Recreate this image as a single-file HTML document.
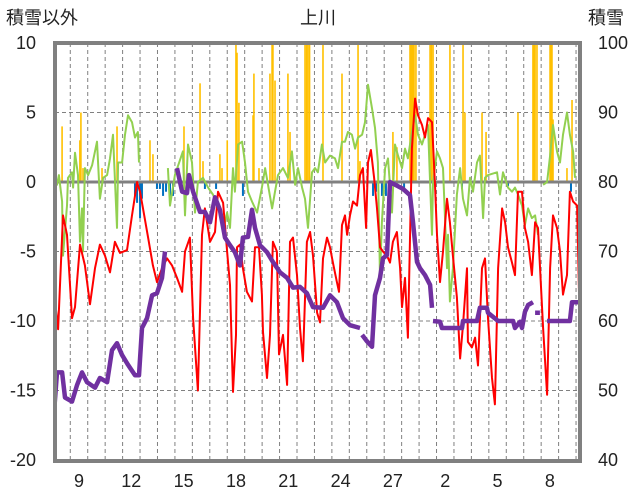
<!DOCTYPE html>
<html><head><meta charset="utf-8">
<style>
html,body{margin:0;padding:0;background:#fff;}
svg{display:block;font-family:"Liberation Sans","Noto Sans CJK JP",sans-serif;}
</style></head>
<body>
<svg id="chart" width="636" height="501" viewBox="0 0 636 501">
<defs><clipPath id="pc"><rect x="55" y="43" width="525" height="418"/></clipPath></defs>
<text x="6" y="24" font-size="18" fill="#222">積雪以外</text>
<text x="318" y="24" font-size="18" fill="#222" text-anchor="middle">上川</text>
<text x="588" y="24" font-size="18" fill="#222">積雪</text>
<g id="grid"></g>
<g id="marks" clip-path="url(#pc)"></g>
<g id="axes"></g>
</svg>
<script>
// x domain: days, 0 = day "9"
const xTickLabels = ["9","12","15","18","21","24","27","2","5","8"];
const xTickDays = [0,3,6,9,12,15,18,21,24,27];
const leftTicks = [10,5,0,-5,-10,-15,-20];
const rightTicks = [100,90,80,70,60,50,40];

const redT = [-1.49,-1.20,-0.92,-0.69,-0.40,-0.23,0.06,0.34,0.63,0.92,1.20,1.49,1.78,2.06,2.35,2.75,3.04,3.33,3.50,3.67,3.96,4.24,4.47,4.76,5.05,5.33,5.62,5.91,6.08,6.36,6.54,6.82,7.05,7.22,7.51,7.80,7.97,8.26,8.49,8.66,8.83,9.00,9.06,9.23,9.40,9.63,9.92,10.09,10.32,10.49,10.55,10.78,10.95,11.12,11.35,11.47,11.70,11.93,12.10,12.27,12.50,12.67,12.84,13.07,13.25,13.42,13.65,13.82,13.99,14.22,14.39,14.56,14.79,14.91,15.08,15.25,15.37,15.54,15.71,15.94,16.11,16.28,16.46,16.57,16.74,16.92,17.09,17.26,17.43,17.66,17.83,18.00,18.23,18.41,18.52,18.69,18.86,19.09,19.27,19.44,19.67,19.84,20.01,20.24,20.41,20.53,20.70,20.87,21.10,21.27,21.44,21.67,21.85,22.02,22.25,22.30,22.53,22.71,22.88,23.11,23.28,23.45,23.68,23.85,24.03,24.26,24.43,24.60,24.83,25.00,25.17,25.40,25.57,25.75,25.97,26.15,26.32,26.61,26.84,27.01,27.18,27.41,27.58,27.75,27.98,28.15,28.33,28.56,28.67];
const redV = [-7.2,-10.6,-2.4,-3.8,-9.8,-9,-4.5,-6,-8.8,-6.2,-4.5,-5.3,-6.5,-4.3,-5.1,-4.9,-2.4,0,-0.7,-1.9,-4,-6,-7.2,-6.2,-5.5,-6,-6.9,-7.9,-5,-4,-9.8,-15,-3.8,-1.9,-4.3,-3.6,-0.7,-1.5,-5,-7.4,-15.1,-11,-4.7,-4.5,-6.2,-7.9,-8.6,-4.7,-4.7,-8.1,-10.8,-14.1,-11,-4.3,-5,-12.4,-11,-14.6,-4.3,-4,-6.7,-10.5,-12.9,-4.3,-3.6,-5.3,-9.4,-10.1,-5.5,-4,-4.7,-5.8,-7.2,-7.9,-3.1,-2.4,-3.8,-2.4,-1.4,-1.7,0.5,1,-3.3,1.4,2.3,0.3,-1.9,-4.7,-5,-5.3,-5.8,-4.3,-3.6,-6.2,-9,-6.9,-11.2,2.4,6,4.8,4.1,3.2,4.6,4.3,-0.2,-3.8,-7.2,-5,-1.2,-2.9,-5.3,-8.3,-12.7,-10.3,-6.2,-11.5,-11.9,-11.2,-13.2,-6.2,-5.5,-9.8,-14.1,-16,-6.2,-1.9,-2.9,-4.7,-5.8,-6.7,-0.7,-0.7,-3.3,-4.3,-6.7,-2.9,-3.3,-10.5,-15.3,-6.2,-2.4,-3.3,-5,-8.1,-6.7,-0.7,-1.4,-1.7,-7.9];

const greenT = [-1.49,-1.26,-1.15,-0.97,-0.92,-0.69,-0.63,-0.40,-0.34,-0.23,-0.06,0.06,0.17,0.23,0.34,0.52,0.75,1.03,1.20,1.38,1.61,1.78,1.95,2.18,2.24,2.47,2.64,2.81,3.04,3.21,3.38,3.44,null,5.10,5.22,5.50,5.96,6.08,6.25,6.48,6.65,6.82,7.11,7.40,7.68,7.97,8.26,8.49,8.66,8.83,8.94,9.12,9.35,9.52,9.69,9.92,10.21,10.49,10.67,11.07,11.24,11.41,11.70,11.98,12.21,12.39,12.56,12.79,12.96,13.13,13.36,13.53,13.70,13.93,14.11,14.39,14.68,14.85,15.08,15.25,15.42,15.65,15.83,16.00,16.23,16.40,16.57,16.80,16.97,17.14,17.26,17.37,17.55,17.72,17.95,18.12,18.29,18.52,18.69,18.86,19.09,19.27,19.44,19.67,19.84,20.01,20.24,20.30,20.53,20.70,20.87,21.10,21.16,21.27,21.44,21.67,21.85,22.02,22.25,22.42,22.59,22.82,22.99,23.17,23.28,23.45,23.97,24.14,24.31,24.60,24.83,25.00,25.17,25.40,25.57,25.75,25.97,26.15,26.32,null,26.61,26.84,27.01,27.18,27.41,27.58,27.75,27.98,28.15,28.33,28.44];
const greenV = [1.4,-0.2,0.5,-1.4,-5.3,-1.7,0.3,0.7,-0.4,2.1,0.5,-4.3,-1.9,-5,1,0.5,1.2,2.9,-1.2,0.3,0.5,1.7,3.4,-3.3,1.4,1.4,3.4,4.8,4.3,3.2,3.6,1.4,null,1,-1.7,0.5,2.2,-2.4,2.7,1.4,-2.2,0,0.3,-0.4,-0.9,-1.7,-3.5,-2.2,-3.3,1,-0.7,2.7,2.9,1.4,-0.7,-1.4,-2.2,-0.4,1,-1.9,-0.7,0.5,1,0.3,2.2,-0.2,1,-0.4,-1.2,-3.3,0.7,1,0.7,2.7,1.4,1.9,1.7,1,2.9,2.9,3.6,3.4,2.4,3.2,3.4,4.3,7,5.3,3.9,1.4,-6.9,-2.9,1,1.7,-2.2,2.7,1.9,1,2.4,1.7,3.6,4.8,3.4,2.7,3.4,4.1,-3.8,0,2.2,1.7,1,-6.2,-3.8,-8.6,-6.2,-0.9,1,-1.2,-2.4,0.3,-0.7,1.4,1.9,-2.6,0.3,0.5,0.7,-0.9,0.7,-0.4,-0.7,-0.4,-0.9,-1.7,-3.1,-1.9,-2.6,-2.4,-3.8,null,-0.2,0,1.9,4.1,2.2,1.4,3.4,5,3.4,2.2,0.3];

// snow depth (right axis, cm)
const snowT = [-1.43,-1.26,-0.97,-0.80,-0.40,-0.11,0.17,0.46,0.92,1.20,1.61,1.89,2.18,2.47,2.81,3.21,3.44,3.61,3.90,4.19,4.47,4.76,4.93,null,5.62,5.91,6.19,6.31,6.54,6.94,7.22,7.51,7.80,8.08,8.37,8.66,8.94,9.23,9.40,9.69,9.92,10.09,10.38,10.78,11.12,11.53,11.93,12.27,12.67,13.07,13.42,13.99,14.39,14.79,15.14,15.54,16.11,null,16.23,16.51,16.80,16.97,17.26,17.43,17.66,17.83,18.58,18.98,19.15,19.38,19.55,19.84,20.13,20.24,null,20.30,20.70,20.81,21.96,22.02,22.82,22.99,23.39,23.45,24.03,24.89,25.00,25.29,25.40,25.57,25.75,26.03,null,26.15,26.43,null,26.84,28.15,28.27,28.73];
const snowV = [47,52.6,52.6,49,48.4,50.8,52.6,51.2,50.4,51.8,51.2,55.8,56.8,55.1,53.7,52.2,52.2,59,60.4,63.7,64,66.2,70,null,82,78.6,78.4,81,78.6,75.7,75.7,74.2,77.8,76,72,70.9,69.9,68,72,72.1,76,73.4,70.9,69.9,68.5,67,66.2,64.8,64.9,64,62,61.9,63.7,62.7,60.4,59.4,59,null,58,57.1,56.3,63.7,66.2,69,69.5,80,79,78.1,74.2,68.5,67.6,66.6,65.2,61.9,null,60,59.9,59,59,60,60,61.9,61.9,61.2,60,60,59,59.9,59,61.3,62.3,62.7,null,61.2,61.2,null,60,60,62.7,62.7];

const snowfallT = [-0.97,0.05,0.11,0.23,1.32,2.18,4.07,4.24,6.02,6.94,7.11,8.08,8.20,8.5,9.00,9.06,9.17,9.98,10.03,10.32,10.95,11.07,11.12,11.24,11.98,12.10,12.96,13.05,13.13,13.22,13.99,15.08,16.00,16.11,18.00,18.23,18.98,19.04,19.09,19.15,19.21,19.32,20.13,20.21,20.30,21.27,22.02,22.13,23.11,23.34,25.17,26.03,26.09,26.15,26.26,27.01,27.07,27.12,27.18,27.98,28.27];
const snowfallV = [4,3,5,1,1,4,3,2,4,7.1,1.5,2,1,3,10,9.3,5.7,4.8,7.8,1,7.8,10,10,7.3,7.8,3.6,10,10,10,10,10,7.8,10,1.5,3.6,2.5,10,10,10,10,10,10,10,10,10,10,10,5,5,3.6,5,10,10,10,10,10,10,10,4.5,1,5.9];
const meltT = [-1.38,3.21,3.33,3.50,3.61,4.47,4.64,4.82,4.99,5.22,5.39,7.22,7.86,9.40,16.86,17.03,17.37,17.60,18.64,21.96,24.60,28.21];
const meltV = [-0.7,-1,-1.5,-2.6,-1.2,-0.5,-0.5,-1,-0.7,-1.5,-1,-0.5,-0.5,-1,-1,-0.7,-1,-1,-0.5,-0.5,-0.3,-0.7];

const X0=79, DX=17.44, Y0=182, DY=13.9;
function xs(t){return X0+t*DX;}
function yl(v){return Y0-v*DY;}
function yr(s){return yl((s-80)/2);}
const NS="http://www.w3.org/2000/svg";
function mk(tag,attrs,parent){const e=document.createElementNS(NS,tag);for(const k in attrs)e.setAttribute(k,attrs[k]);parent.appendChild(e);return e;}
const grid=document.getElementById('grid'), marks=document.getElementById('marks'), axes=document.getElementById('axes');

leftTicks.forEach(v=>{ if(v===0||v===10||v===-20) return;
  const l=mk('line',{x1:55,x2:580,y1:yl(v),y2:yl(v),stroke:'#808080','stroke-width':1,'stroke-dasharray':'4,3'},grid);
  
  
});
for(let d=-0.5; d<28.6; d+=1){
  const l=mk('line',{x1:xs(d),x2:xs(d),y1:43,y2:461,stroke:'#808080','stroke-width':1,'stroke-dasharray':'4,3'},grid);
  
  
}
snowfallT.forEach((t,i)=>{
  const v=snowfallV[i];
  const r=mk('rect',{x:xs(t)-0.8,y:yl(v),width:1.6,height:yl(0)-yl(v),fill:'#FFC000'},marks);
  
  
});
meltT.forEach((t,i)=>{
  const v=meltV[i];
  const r=mk('rect',{x:xs(t)-1,y:yl(0),width:2,height:yl(v)-yl(0),fill:'#0070C0'},marks);
  
  
});
function pathOf(T,V,yf){let d='',pen=false;T.forEach((t,i)=>{if(t===null||V[i]===null){pen=false;return;}d+=(pen?'L':'M')+xs(t).toFixed(1)+','+yf(V[i]).toFixed(1);pen=true;});return d;}
const zl=mk('line',{x1:55,x2:580,y1:Y0,y2:Y0,stroke:'#808080','stroke-width':3},marks);


const g=mk('path',{d:pathOf(greenT,greenV,yl),fill:'none',stroke:'#92D050','stroke-width':2,'stroke-linejoin':'round'},marks);


const r=mk('path',{d:pathOf(redT,redV,yl),fill:'none',stroke:'#FF0000','stroke-width':2,'stroke-linejoin':'round'},marks);


const p=mk('path',{d:pathOf(snowT,snowV,yr),fill:'none',stroke:'#7030A0','stroke-width':4.5,'stroke-linejoin':'round'},marks);



const fr=mk('rect',{x:55,y:43,width:525,height:418,fill:'none',stroke:'#808080','stroke-width':4},axes);


leftTicks.forEach(v=>{
  const t=mk('text',{x:36,y:yl(v)+6,'font-size':18,'text-anchor':'end',fill:'#222'},axes);t.textContent=v;
  
  
});
rightTicks.forEach(s=>{
  const t=mk('text',{x:598,y:yr(s)+6,'font-size':18,fill:'#222'},axes);t.textContent=s;
  
  
});
xTickDays.forEach((d,i)=>{
  const t=mk('text',{x:xs(d),y:487,'font-size':18,'text-anchor':'middle',fill:'#222'},axes);t.textContent=xTickLabels[i];
  
  
});
</script>
</body></html>
